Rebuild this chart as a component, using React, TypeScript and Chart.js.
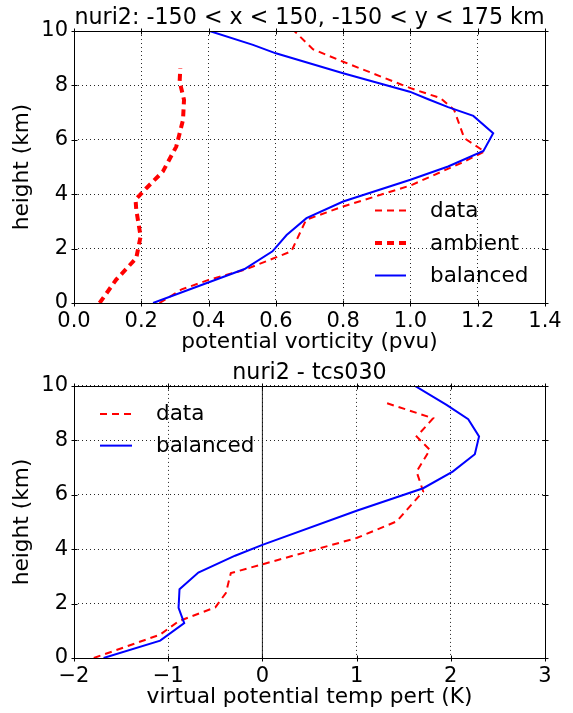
import React, { useEffect, useRef } from "react";
import { Chart, registerables } from "chart.js";

Chart.register(...registerables);

// ---------- shared ----------
const heightTicks = [0, 2, 4, 6, 8, 10];
const heightLabel = "height (km)";

// ---------- top panel ----------
const topTitle = "nuri2: -150 < x < 150, -150 < y < 175 km";
const topXLabel = "potential vorticity (pvu)";
const topXTicks = [0, 0.2, 0.4, 0.6, 0.8, 1.0, 1.2, 1.4];

const topDataPv = [0.254, 0.32, 0.4, 0.507, 0.646, 0.69, 0.8, 1.0, 1.16, 1.22, 1.16, 1.13, 1.09, 1.0, 0.8, 0.71, 0.655];
const topDataZ = [0, 0.5, 0.85, 1.22, 1.9, 3.06, 3.55, 4.32, 5.2, 5.57, 6.06, 7.1, 7.53, 7.9, 8.87, 9.33, 10.0];

const topAmbientPv = [0.076, 0.125, 0.185, 0.198, 0.185, 0.183, 0.215, 0.264, 0.304, 0.324, 0.327, 0.314, 0.316];
const topAmbientZ = [0, 0.85, 1.65, 2.45, 3.43, 3.8, 4.22, 4.83, 5.75, 6.73, 7.47, 8.14, 8.63];

const topBalancedPv = [0.235, 0.507, 0.59, 0.632, 0.691, 0.8, 1.0, 1.112, 1.217, 1.246, 1.187, 1.112, 1.053, 0.998, 0.8, 0.6, 0.532, 0.403];
const topBalancedZ = [0, 1.25, 1.9, 2.5, 3.12, 3.73, 4.53, 5.02, 5.59, 6.24, 6.88, 7.2, 7.49, 7.77, 8.45, 9.18, 9.49, 10.0];

// ---------- bottom panel ----------
const botTitle = "nuri2 - tcs030";
const botXLabel = "virtual potential temp pert (K)";
const botXTicks = [-2, -1, 0, 1, 2, 3];

const botDataT = [-1.79, -1.085, -0.89, -0.5, -0.388, -0.335, 1.0, 1.425, 1.707, 1.637, 1.778, 1.637, 1.813, 1.3];
const botDataZ = [0, 0.86, 1.35, 1.86, 2.39, 3.12, 4.41, 5.02, 6.12, 6.85, 7.65, 8.14, 8.81, 9.39];

const botBalancedT = [-1.686, -1.085, -0.83, -0.89, -0.88, -0.68, -0.29, 0, 1.0, 1.707, 2.02, 2.255, 2.3, 2.185, 1.955, 1.62];
const botBalancedZ = [0, 0.64, 1.28, 1.84, 2.53, 3.14, 3.76, 4.16, 5.41, 6.24, 6.85, 7.49, 8.14, 8.78, 9.3, 10.0];

const zeroLineT = [0, 0];
const zeroLineZ = [0, 10];

// ---------- helpers ----------
const FONT = "'DejaVu Sans', 'Liberation Sans', sans-serif";
const TICK_SIZE = 21;
const LABEL_SIZE = 21.7;
const TITLE_SIZE = 22.2;
const LEGEND_SIZE = 21.5;
const pts = (xs: number[], ys: number[]) => xs.map((x, i) => ({ x, y: ys[i] }));
const minus = (v: number) => (v < 0 ? "\u2212" + Math.abs(v) : String(v));

const frameTicksPlugin = {
  id: "frameTicks",
  afterDraw(chart: any) {
    const { ctx, chartArea: a, scales } = chart;
    const L = Math.round(a.left) + 0.5;
    const R = Math.round(a.right) + 0.5;
    const T = Math.round(a.top) + 0.5;
    const B = Math.round(a.bottom) + 0.5;
    ctx.save();
    ctx.strokeStyle = "#000";
    ctx.lineWidth = 1;
    ctx.setLineDash([]);
    ctx.strokeRect(L, T, R - L, B - T);
    ctx.beginPath();
    for (const t of scales.x.ticks) {
      const px = Math.round(scales.x.getPixelForValue(t.value)) + 0.5;
      ctx.moveTo(px, B - 3);
      ctx.lineTo(px, B + 3);
      ctx.moveTo(px, T + 3);
      ctx.lineTo(px, T - 3);
    }
    for (const t of scales.y.ticks) {
      const py = Math.round(scales.y.getPixelForValue(t.value)) + 0.5;
      ctx.moveTo(L - 3, py);
      ctx.lineTo(L + 3, py);
      ctx.moveTo(R - 3, py);
      ctx.lineTo(R + 3, py);
    }
    ctx.stroke();
    ctx.restore();
  },
};

const inlineLegendPlugin = {
  id: "inlineLegend",
  afterDraw(chart: any, _args: any, opts: any) {
    const { ctx, chartArea: a } = chart;
    const items = chart.data.datasets.filter((d: any) => d.label);
    const x0 = opts.anchor === "right" ? a.right - opts.dx : a.left + opts.dx;
    items.forEach((ds: any, i: number) => {
      const y = opts.fromBottom
        ? a.bottom - opts.dy - (items.length - 1 - i) * opts.rowGap
        : a.top + opts.dy + i * opts.rowGap;
      ctx.save();
      ctx.strokeStyle = ds.borderColor;
      ctx.lineWidth = ds.borderWidth;
      ctx.lineCap = "butt";
      ctx.setLineDash(ds.borderDash || []);
      ctx.beginPath();
      ctx.moveTo(x0, y);
      ctx.lineTo(x0 + opts.lineLen, y);
      ctx.stroke();
      ctx.setLineDash([]);
      ctx.fillStyle = "#000";
      ctx.font = `${LEGEND_SIZE}px ${FONT}`;
      ctx.textBaseline = "middle";
      ctx.textAlign = "left";
      ctx.fillText(ds.label, x0 + opts.lineLen + opts.gap, y + 1);
      ctx.restore();
    });
  },
};

function makeConfig(p: {
  title: string;
  titlePad: { top: number; bottom: number };
  xLabel: string;
  xTicks: number[];
  xMin: number;
  xMax: number;
  xFmt: (v: number) => string;
  xAxisHeight: number;
  xTitlePadBottom: number;
  datasets: any[];
  legend: any;
}): any {
  return {
    type: "scatter",
    data: { datasets: p.datasets },
    options: {
      animation: false,
      responsive: false,
      devicePixelRatio: 1,
      layout: { padding: { left: 0, right: 28, top: 0, bottom: 0 } },
      elements: { point: { radius: 0, hoverRadius: 0 }, line: { tension: 0 } },
      plugins: {
        legend: { display: false },
        tooltip: { enabled: false },
        title: {
          display: true,
          fullSize: false,
          text: p.title,
          color: "#000",
          font: { family: FONT, size: TITLE_SIZE, weight: "normal", lineHeight: 1.1 },
          padding: p.titlePad,
        },
        inlineLegend: p.legend,
      },
      scales: {
        x: {
          type: "linear",
          min: p.xMin,
          max: p.xMax,
          afterBuildTicks: (s: any) => {
            s.ticks = p.xTicks.map((v) => ({ value: v }));
          },
          afterFit: (s: any) => {
            s.height = p.xAxisHeight;
          },
          ticks: {
            color: "#000",
            font: { family: FONT, size: TICK_SIZE, lineHeight: 1.2 },
            padding: 6,
            maxRotation: 0,
            autoSkip: false,
            callback: (v: any) => p.xFmt(Number(v)),
          },
          grid: { color: "rgba(0,0,0,0.85)", lineWidth: 1, drawTicks: false },
          border: { display: false, dash: [1, 3] },
          title: {
            display: true,
            text: p.xLabel,
            color: "#000",
            font: { family: FONT, size: LABEL_SIZE, lineHeight: 1.2 },
            padding: { top: 0, bottom: p.xTitlePadBottom },
          },
        },
        y: {
          type: "linear",
          min: 0,
          max: 10,
          afterBuildTicks: (s: any) => {
            s.ticks = heightTicks.map((v) => ({ value: v }));
          },
          afterFit: (s: any) => {
            s.width = 74;
          },
          ticks: {
            color: "#000",
            font: { family: FONT, size: TICK_SIZE, lineHeight: 1.2 },
            padding: 6,
            autoSkip: false,
            callback: (v: any) => String(v),
          },
          grid: { color: "rgba(0,0,0,0.85)", lineWidth: 1, drawTicks: false },
          border: { display: false, dash: [1, 3] },
          title: {
            display: true,
            text: heightLabel,
            color: "#000",
            font: { family: FONT, size: LABEL_SIZE, lineHeight: 1.2 },
            padding: { top: 9, bottom: 0 },
          },
        },
      },
    },
    plugins: [frameTicksPlugin, inlineLegendPlugin],
  };
}

function useChart(ref: React.RefObject<HTMLCanvasElement | null>, build: () => any) {
  useEffect(() => {
    if (!ref.current) return;
    const chart = new Chart(ref.current, build());
    return () => chart.destroy();
  }, []);
}

export default function App() {
  const topRef = useRef<HTMLCanvasElement | null>(null);
  const botRef = useRef<HTMLCanvasElement | null>(null);

  useChart(topRef, () =>
    makeConfig({
      title: topTitle,
      titlePad: { top: 6, bottom: 0.6 },
      xLabel: topXLabel,
      xTicks: topXTicks,
      xMin: 0,
      xMax: 1.4,
      xFmt: (v) => v.toFixed(1),
      xAxisHeight: 53,
      xTitlePadBottom: 0.5,
      legend: { anchor: "right", dx: 170, fromBottom: true, dy: 27.5, rowGap: 32.5, lineLen: 31, gap: 24 },
      datasets: [
        {
          label: "data",
          data: pts(topDataPv, topDataZ),
          showLine: true,
          borderColor: "#ff0000",
          backgroundColor: "#ff0000",
          borderWidth: 2,
          borderDash: [7, 5],
          order: 2,
        },
        {
          label: "ambient",
          data: pts(topAmbientPv, topAmbientZ),
          showLine: true,
          borderColor: "#ff0000",
          backgroundColor: "#ff0000",
          borderWidth: 4,
          borderDash: [7, 5],
          order: 1,
        },
        {
          label: "balanced",
          data: pts(topBalancedPv, topBalancedZ),
          showLine: true,
          borderColor: "#0000ff",
          backgroundColor: "#0000ff",
          borderWidth: 2,
          order: 0,
        },
      ],
    })
  );

  useChart(botRef, () =>
    makeConfig({
      title: botTitle,
      titlePad: { top: 5.5, bottom: 0 },
      xLabel: botXLabel,
      xTicks: botXTicks,
      xMin: -2,
      xMax: 3,
      xFmt: minus,
      xAxisHeight: 55,
      xTitlePadBottom: 2.5,
      legend: { anchor: "left", dx: 26, fromBottom: false, dy: 28, rowGap: 31.7, lineLen: 32, gap: 24 },
      datasets: [
        {
          label: "data",
          data: pts(botDataT, botDataZ),
          showLine: true,
          borderColor: "#ff0000",
          backgroundColor: "#ff0000",
          borderWidth: 2,
          borderDash: [7, 5],
          order: 1,
        },
        {
          label: "balanced",
          data: pts(botBalancedT, botBalancedZ),
          showLine: true,
          borderColor: "#0000ff",
          backgroundColor: "#0000ff",
          borderWidth: 2,
          order: 0,
        },
        {
          label: "",
          data: pts(zeroLineT, zeroLineZ),
          showLine: true,
          borderColor: "rgba(0,0,0,0.85)",
          backgroundColor: "rgba(0,0,0,0.85)",
          borderWidth: 1,
          order: 3,
        },
      ],
    })
  );

  return (
    <div style={{ position: "absolute", left: 0, top: 0, width: 573, height: 713, background: "#fff" }}>
      <canvas ref={topRef} width={573} height={356} style={{ position: "absolute", left: 0, top: 0, width: 573, height: 356 }} />
      <canvas ref={botRef} width={573} height={357} style={{ position: "absolute", left: 0, top: 356, width: 573, height: 357 }} />
    </div>
  );
}
